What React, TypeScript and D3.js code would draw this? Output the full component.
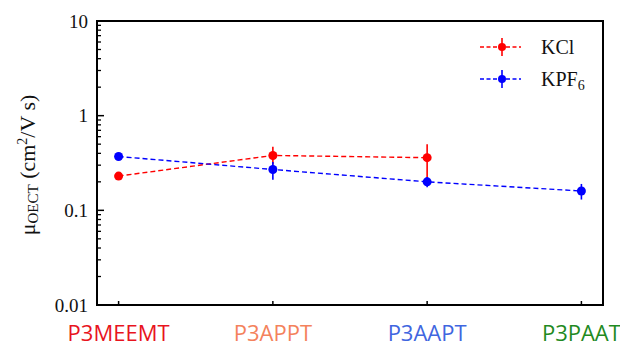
import React from "react";
import * as d3 from "d3";

const categories = ["P3MEEMT", "P3APPT", "P3AAPT", "P3PAAT"];
const categoryColors = ["#e8141e", "#f4825c", "#3f66e0", "#1f8a22"];

const kclX = ["P3MEEMT", "P3APPT", "P3AAPT"];
const kclY = [0.23, 0.38, 0.36];
const kclLo = [0.22, 0.305, 0.21];
const kclHi = [0.24, 0.47, 0.5];

const kpfX = ["P3MEEMT", "P3APPT", "P3AAPT", "P3PAAT"];
const kpfY = [0.37, 0.27, 0.2, 0.16];
const kpfLo = [0.36, 0.21, 0.175, 0.13];
const kpfHi = [0.38, 0.325, 0.225, 0.19];

const yTicks = [0.01, 0.1, 1, 10];
const yTickLabels = ["0.01", "0.1", "1", "10"];

const W = 620, H = 348;
const left = 97, right = 603, top = 21, bottom = 305;

export default function App() {
  const x = d3.scalePoint<string>().domain(categories).range([left, right]).padding(0.14);
  const y = d3.scaleLog().domain([0.01, 10]).range([bottom, top]);
  const minor: number[] = [];
  for (let d = 0.01; d < 10; d *= 10) {
    for (let k = 2; k <= 9; k++) minor.push(d * k);
  }
  const line = d3.line<[number, number]>().x((d) => d[0]).y((d) => d[1]);
  const series = [
    { name: "KCl", color: "#ff0000", xs: kclX, ys: kclY, lo: kclLo, hi: kclHi },
    { name: "KPF", color: "#0000ff", xs: kpfX, ys: kpfY, lo: kpfLo, hi: kpfHi },
  ];
  const serif = "'Liberation Serif', 'DejaVu Serif', serif";
  return (
    <svg width={W} height={H} style={{ position: "absolute", left: 0, top: 0, background: "#fff" }}>
      {minor.map((v, i) => (
        <line key={"m" + i} x1={left} x2={left + 4} y1={y(v)} y2={y(v)} stroke="#000" strokeWidth={1.3} />
      ))}
      {yTicks.map((v, i) => (
        <g key={"t" + i}>
          <line x1={left} x2={left + 7} y1={y(v)} y2={y(v)} stroke="#000" strokeWidth={1.5} />
          <text x={left - 9} y={y(v)} dy="0.35em" textAnchor="end" fontFamily={serif} fontSize={19} fill="#111">
            {yTickLabels[i]}
          </text>
        </g>
      ))}
      {categories.map((c, i) => (
        <g key={c}>
          <line x1={x(c)!} x2={x(c)!} y1={bottom} y2={bottom - 4} stroke="#000" strokeWidth={1.5} />
          <text x={x(c)!} y={341} textAnchor="middle" fontFamily="'Open Sans', sans-serif" fontSize={22} fill={categoryColors[i]}>
            {c}
          </text>
        </g>
      ))}
      <rect x={left} y={top} width={right - left} height={bottom - top} fill="none" stroke="#000" strokeWidth={2} />
      {series.map((s) => {
        const pts: [number, number][] = s.xs.map((c, i) => [x(c)!, y(s.ys[i])]);
        return (
          <g key={s.name}>
            <path d={line(pts)!} fill="none" stroke={s.color} strokeWidth={1.4} strokeDasharray="5,3" />
            {s.xs.map((c, i) => (
              <line key={"e" + i} x1={x(c)!} x2={x(c)!} y1={y(s.lo[i])} y2={y(s.hi[i])} stroke={s.color} strokeWidth={1.6} />
            ))}
            {pts.map((p, i) => (
              <circle key={"p" + i} cx={p[0]} cy={p[1]} r={4.5} fill={s.color} />
            ))}
          </g>
        );
      })}
      {series.map((s, i) => {
        const ly = 47 + i * 32;
        return (
          <g key={"l" + s.name}>
            <line x1={480} x2={521} y1={ly} y2={ly} stroke={s.color} strokeWidth={1.4} strokeDasharray="4,2.5" />
            <line x1={502} x2={502} y1={ly - 9} y2={ly + 9} stroke={s.color} strokeWidth={1.6} />
            <circle cx={502} cy={ly} r={4} fill={s.color} />
            <text x={541} y={ly} dy="0.35em" fontFamily={serif} fontSize={20} fill="#111">
              {s.name === "KCl" ? "KCl" : (
                <>
                  KPF<tspan fontSize={14} dy="4">6</tspan>
                </>
              )}
            </text>
          </g>
        );
      })}
      <text transform={`translate(35,165) rotate(-90)`} textAnchor="middle" fontFamily={serif} fontSize={22} fill="#111">
        μ<tspan fontSize={15} dy="3">OECT</tspan>
        <tspan dy="-3"> (cm</tspan>
        <tspan fontSize={14} dy="-8">2</tspan>
        <tspan dy="8">/V s)</tspan>
      </text>
    </svg>
  );
}
